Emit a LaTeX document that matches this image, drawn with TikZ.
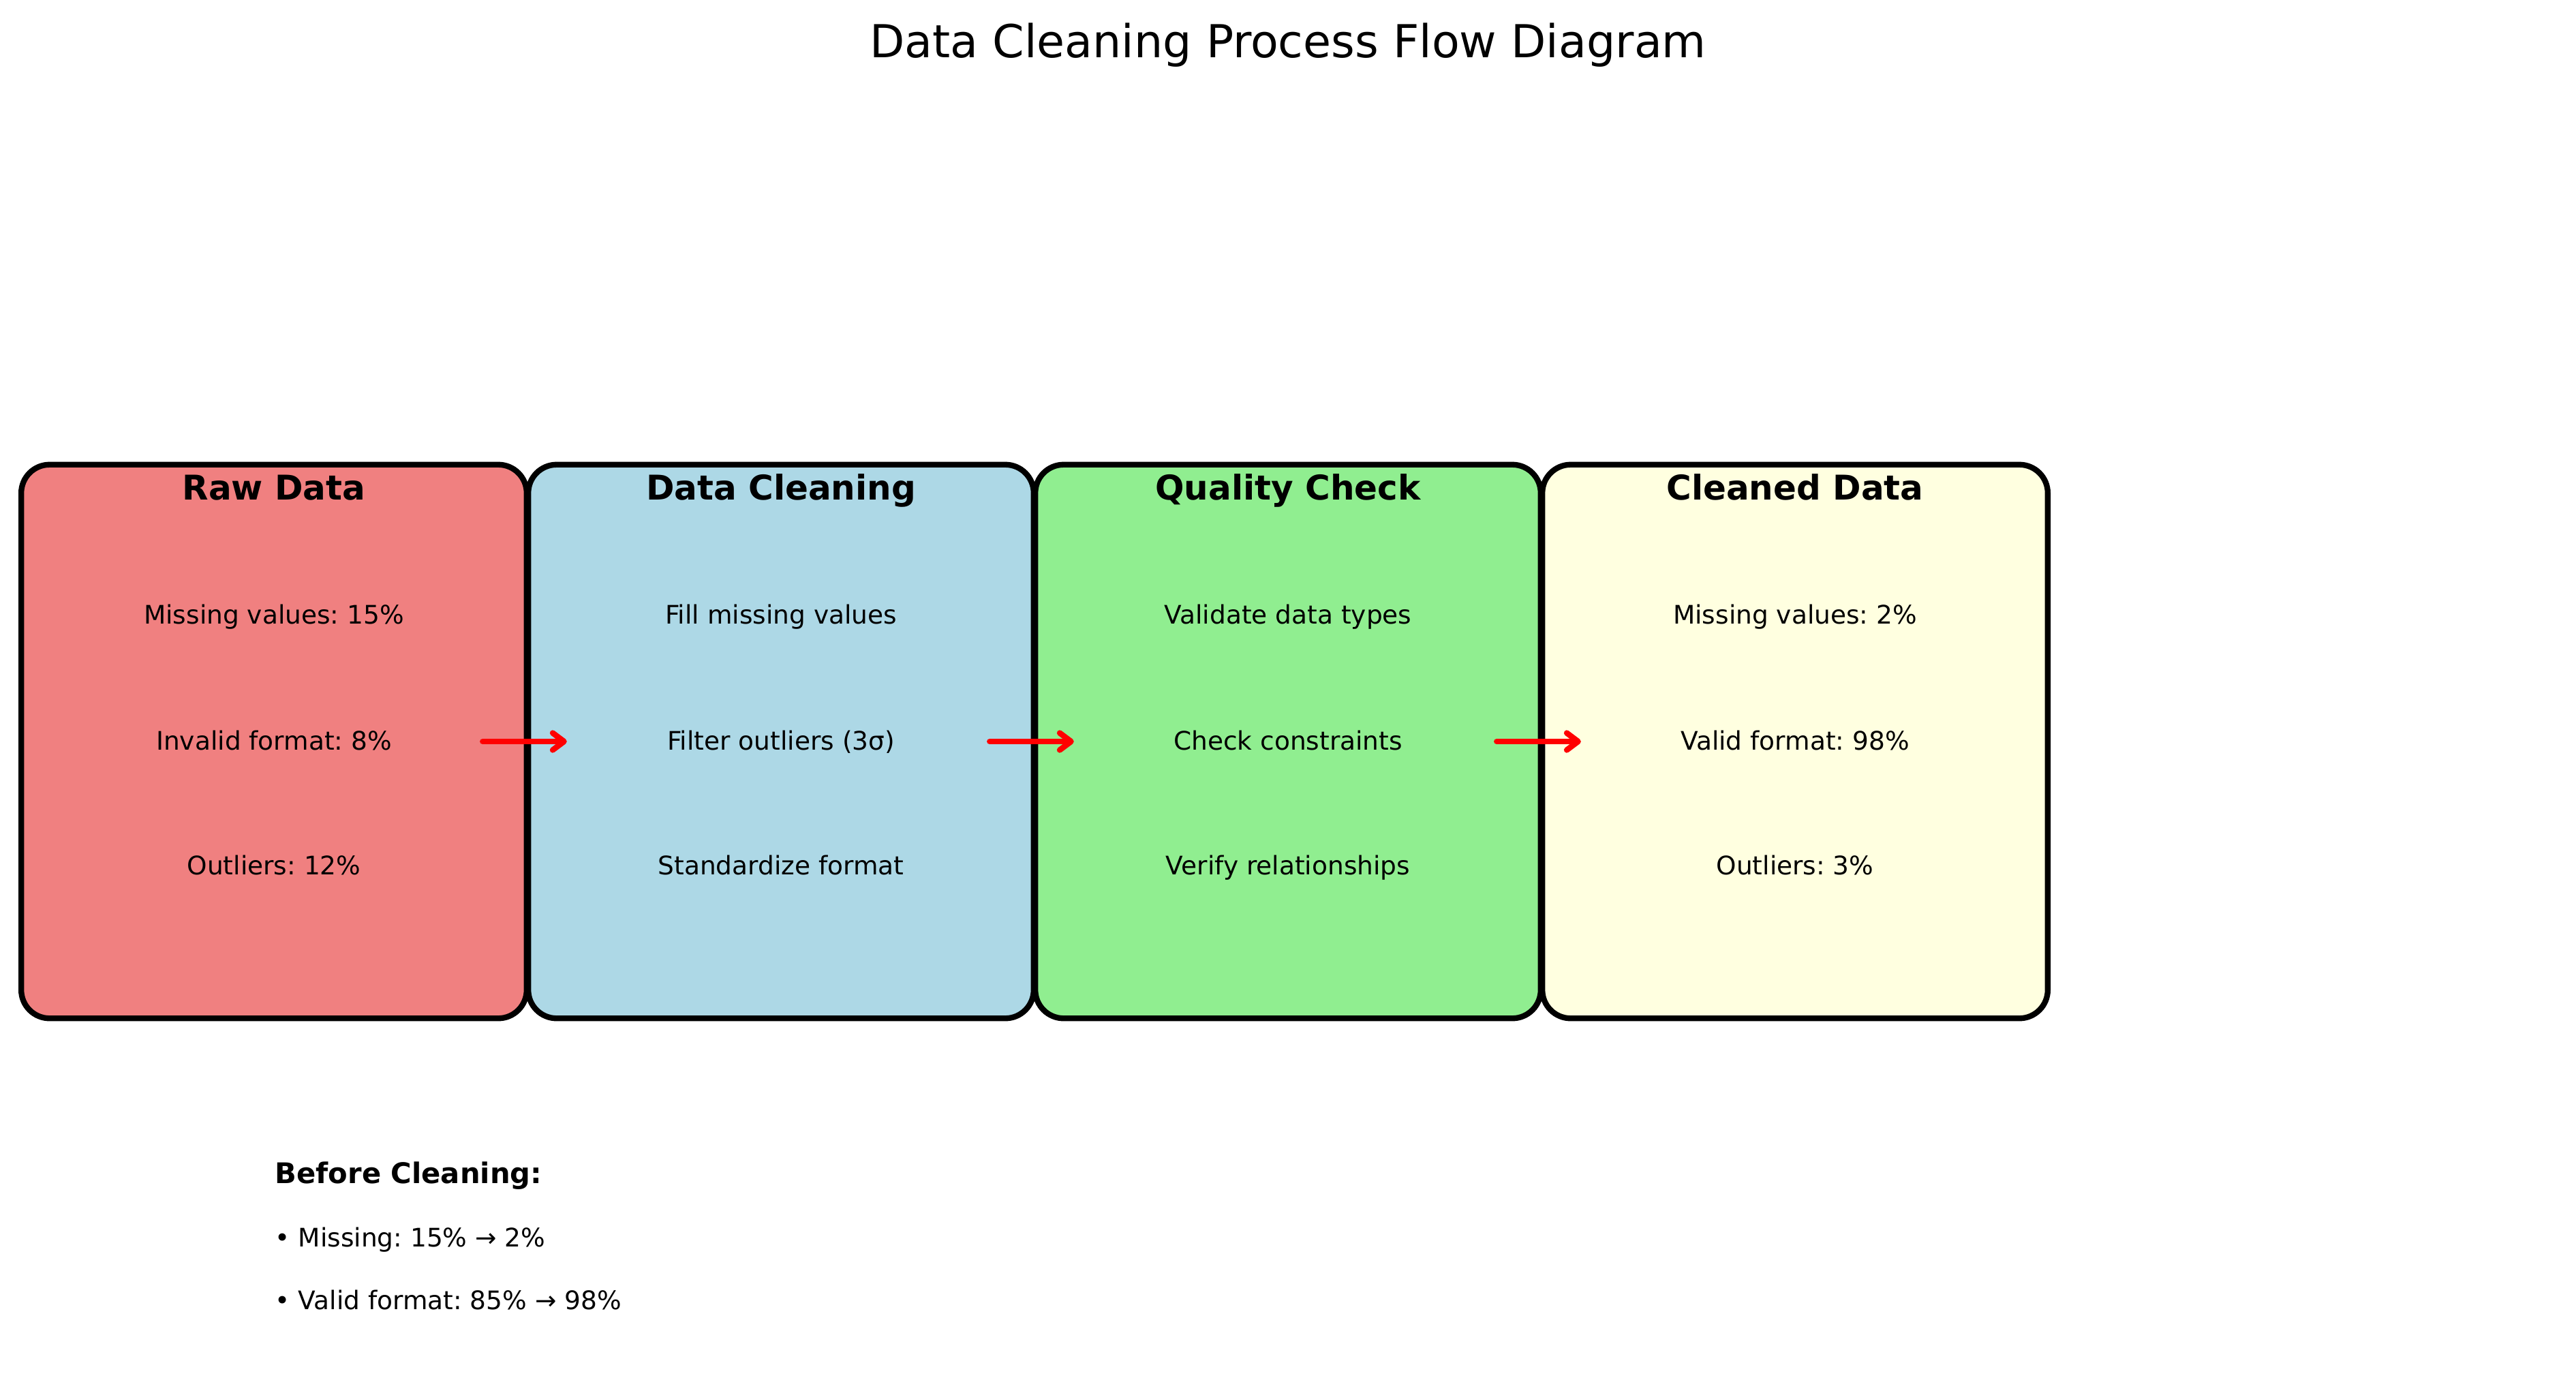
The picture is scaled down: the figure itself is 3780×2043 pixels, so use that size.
\documentclass[tikz,border=0pt]{standalone}
\usepackage{fontspec}
\setmainfont{DejaVu Sans}
\usetikzlibrary{arrows.meta}
\definecolor{rawred}{HTML}{F08080}
\definecolor{cleanblue}{HTML}{ADD8E6}
\definecolor{checkgreen}{HTML}{90EE90}
\definecolor{doneyellow}{HTML}{FFFFE0}
\frenchspacing

\begin{document}
\begin{tikzpicture}[x=0.24pt,y=-0.24pt,
    stagebox/.style={draw=black,line width=2pt,rounded corners=10pt,minimum width=178pt,minimum height=195pt,inner sep=0pt},
    stagetitle/.style={anchor=base,inner sep=0pt,font=\bfseries\fontsize{12}{14}\selectfont},
    stageitem/.style={anchor=base,inner sep=0pt,font=\fontsize{9}{11}\selectfont},
    flow/.style={red,line width=2pt,line cap=round,-{Straight Barb[length=4pt,width=6pt,round]}},
    summary/.style={anchor=base west,inner sep=0pt,font=\fontsize{9}{11}\selectfont}]
    \useasboundingbox (0,0) rectangle (3780,2043);
    \node[anchor=base,inner sep=0pt,font=\fontsize{16}{19}\selectfont] (title) at (1890,84) {Data Cleaning Process Flow Diagram};
    % stages
    \node[stagebox,fill=rawred] (raw) at (402,1088) {};
    \node[stagebox,fill=cleanblue] (cleaning) at (1146,1088) {};
    \node[stagebox,fill=checkgreen] (check) at (1890,1088) {};
    \node[stagebox,fill=doneyellow] (cleaned) at (2634,1088) {};
    % texts in the stages
    \node[stagetitle] (rawtitle) at ([yshift=85pt]raw.center) {Raw Data};
    \node[stageitem] (raw1) at ([yshift=41.5pt]raw.center) {Missing values: 15\%};
    \node[stageitem] (raw2) at ([yshift=-3pt]raw.center) {Invalid format: 8\%};
    \node[stageitem] (raw3) at ([yshift=-47pt]raw.center) {Outliers: 12\%};
    \node[stagetitle] (cleaningtitle) at ([yshift=85pt]cleaning.center) {Data Cleaning};
    \node[stageitem] (cleaning1) at ([yshift=41.5pt]cleaning.center) {Fill missing values};
    \node[stageitem] (cleaning2) at ([yshift=-3pt]cleaning.center) {Filter outliers (3σ)};
    \node[stageitem] (cleaning3) at ([yshift=-47pt]cleaning.center) {Standardize format};
    \node[stagetitle] (checktitle) at ([yshift=85pt]check.center) {Quality Check};
    \node[stageitem] (check1) at ([yshift=41.5pt]check.center) {Validate data types};
    \node[stageitem] (check2) at ([yshift=-3pt]check.center) {Check constraints};
    \node[stageitem] (check3) at ([yshift=-47pt]check.center) {Verify relationships};
    \node[stagetitle] (cleanedtitle) at ([yshift=85pt]cleaned.center) {Cleaned Data};
    \node[stageitem] (cleaned1) at ([yshift=41.5pt]cleaned.center) {Missing values: 2\%};
    \node[stageitem] (cleaned2) at ([yshift=-3pt]cleaned.center) {Valid format: 98\%};
    \node[stageitem] (cleaned3) at ([yshift=-47pt]cleaned.center) {Outliers: 3\%};
    % arrows
    \draw[flow] ([xshift=-16.5pt]raw.east) -- ([xshift=14.6pt]cleaning.west);
    \draw[flow] ([xshift=-16.5pt]cleaning.east) -- ([xshift=14.6pt]check.west);
    \draw[flow] ([xshift=-16.5pt]check.east) -- ([xshift=14.6pt]cleaned.west);
    % summary
    \node[summary,font=\bfseries\fontsize{10}{12}\selectfont] (before) at (403,1736) {Before Cleaning:};
    \node[summary] (missing) at (403,1829) {• Missing: 15\% → 2\%};
    \node[summary] (valid) at (403,1921) {• Valid format: 85\% → 98\%};
\end{tikzpicture}
\end{document}
